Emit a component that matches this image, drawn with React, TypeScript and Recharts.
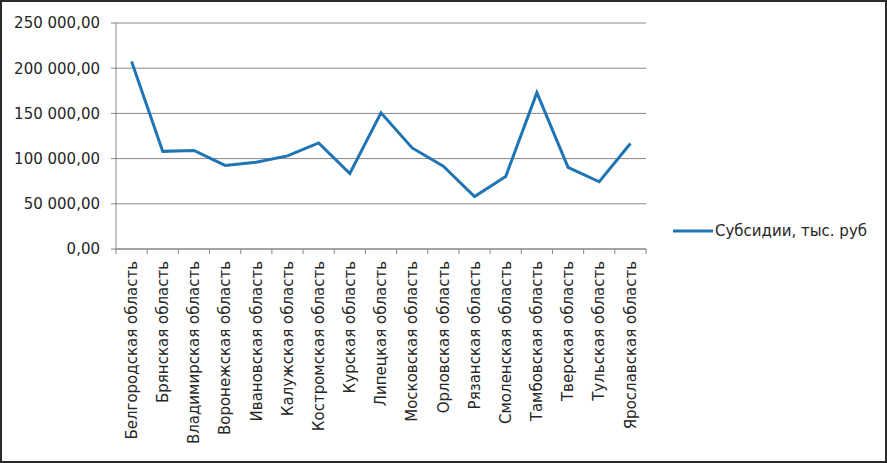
import React from 'react';
import {
  LineChart,
  Line,
  XAxis,
  YAxis,
  CartesianGrid,
  Legend,
} from 'recharts';

// ─── Data ─────────────────────────────────────────────────────────────────────

const regions: string[] = [
  'Белгородская область',
  'Брянская область',
  'Владимирская область',
  'Воронежская область',
  'Ивановская область',
  'Калужская область',
  'Костромская область',
  'Курская область',
  'Липецкая область',
  'Московская область',
  'Орловская область',
  'Рязанская область',
  'Смоленская область',
  'Тамбовская область',
  'Тверская область',
  'Тульская область',
  'Ярославская область',
];

const subsidies: number[] = [
  207500, 108000, 109000, 92500, 96000, 103000, 117300, 83500, 150700,
  111800, 91500, 58000, 80300, 173000, 90400, 74400, 116700,
];

const yTicks: number[] = [0, 50000, 100000, 150000, 200000, 250000];

const SERIES_NAME = 'Субсидии, тыс. руб';

const chartData = regions.map((region, i) => ({ region, value: subsidies[i] }));

// ─── Layout ───────────────────────────────────────────────────────────────────

const W = 887;
const H = 463;
const PLOT_LEFT = 116;
const PLOT_RIGHT = 646;
const PLOT_TOP = 23;
const PLOT_BOTTOM = 249;
const LEGEND_W = 200;
const BAND = (PLOT_RIGHT - PLOT_LEFT) / regions.length;
const FONT = '"DejaVu Sans", sans-serif';
const TEXT = '#262626';
const AXIS = '#868686';
const LINE = '#1f74b4';

function formatRu(v: number): string {
  const int = Math.round(v).toString().replace(/\B(?=(\d{3})+(?!\d))/g, ' ');
  return `${int},00`;
}

// ─── Custom ticks ─────────────────────────────────────────────────────────────

interface TickProps {
  x?: number;
  y?: number;
  index?: number;
  payload?: { value: string };
}

function CategoryTick({ x = 0, index = 0, payload }: TickProps): React.ReactElement {
  const last = index === regions.length - 1;
  return (
    <g>
      <line x1={x - BAND / 2} x2={x - BAND / 2} y1={PLOT_BOTTOM} y2={PLOT_BOTTOM + 5} stroke={AXIS} />
      {last && (
        <line x1={x + BAND / 2} x2={x + BAND / 2} y1={PLOT_BOTTOM} y2={PLOT_BOTTOM + 5} stroke={AXIS} />
      )}
      <text
        transform={`translate(${x}, ${PLOT_BOTTOM + 12}) rotate(-90)`}
        textAnchor="end"
        dy="0.35em"
        fontFamily={FONT}
        fontSize={15}
        fill={TEXT}
      >
        {payload?.value}
      </text>
    </g>
  );
}

function LegendContent(): React.ReactElement {
  return (
    <svg width={LEGEND_W} height={20}>
      <line x1={2} x2={42} y1={10} y2={10} stroke={LINE} strokeWidth={3} />
      <text x={44} y={10} dy="0.35em" fontFamily={FONT} fontSize={15} fill={TEXT}>
        {SERIES_NAME}
      </text>
    </svg>
  );
}

// ─── Component ────────────────────────────────────────────────────────────────

export default function App(): React.ReactElement {
  return (
    <div
      style={{
        position: 'absolute',
        left: 0,
        top: 0,
        width: W,
        height: H,
        border: '2px solid #2b2b2b',
        boxSizing: 'border-box',
        background: '#fff',
      }}
    >
      <div style={{ position: 'absolute', left: -2, top: -2 }}>
        <LineChart
          width={W}
          height={H}
          data={chartData}
          margin={{ top: PLOT_TOP, left: 0, right: W - PLOT_RIGHT - LEGEND_W, bottom: 0 }}
        >
          <CartesianGrid horizontal vertical={false} stroke={AXIS} strokeWidth={1} />
          <XAxis
            dataKey="region"
            interval={0}
            height={H - PLOT_BOTTOM}
            padding={{ left: BAND / 2, right: BAND / 2 }}
            stroke={AXIS}
            tickLine={false}
            tick={<CategoryTick />}
          />
          <YAxis
            width={PLOT_LEFT}
            domain={[0, 250000]}
            ticks={yTicks}
            tickFormatter={formatRu}
            stroke={AXIS}
            tickSize={5}
            tickMargin={11}
            tick={{ fontFamily: FONT, fontSize: 15, fill: TEXT }}
          />
          <Legend
            layout="vertical"
            align="right"
            verticalAlign="middle"
            content={<LegendContent />}
            wrapperStyle={{ left: 671, top: 221, width: LEGEND_W }}
          />
          <Line
            type="linear"
            dataKey="value"
            name={SERIES_NAME}
            stroke={LINE}
            strokeWidth={3}
            dot={false}
            isAnimationActive={false}
          />
        </LineChart>
      </div>
    </div>
  );
}
